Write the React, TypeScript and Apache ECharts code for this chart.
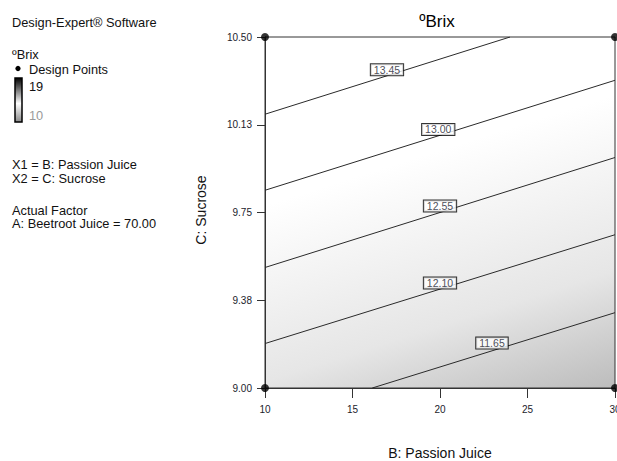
import React, { useEffect, useRef } from "react";
import * as echarts from "echarts";

const FONT = "'Liberation Sans', Arial, sans-serif";

// Contour lines (level, endpoints in data units: B = Passion Juice, C = Sucrose)
const contourLevels = ["13.45", "13.00", "12.55", "12.10", "11.65"];
const contourStartX = [10, 10, 10, 10, 16.13];
const contourStartY = [10.17, 9.845, 9.515, 9.19, 9.0];
const contourEndX = [24.0, 30, 30, 30, 30];
const contourEndY = [10.5, 10.315, 9.985, 9.655, 9.322];
// Contour label anchor positions (data units)
const labelX = [16.97, 19.9, 20.0, 20.0, 22.97];
const labelY = [10.36, 10.105, 9.778, 9.449, 9.192];
// Design points
const designX = [10, 10, 30, 30];
const designY = [9.0, 10.5, 9.0, 10.5];
// Axis settings
const xMin = 10, xMax = 30, xStep = 5;
const yMin = 9.0, yMax = 10.5, yStep = 0.375;

const leftTexts = [
  "Design-Expert® Software",
  "ºBrix",
  "Design Points",
  "19",
  "10",
  "X1 = B: Passion Juice",
  "X2 = C: Sucrose",
  "Actual Factor",
  "A: Beetroot Juice = 70.00",
];

export default function App() {
  const ref = useRef<HTMLDivElement>(null);
  useEffect(() => {
    if (!ref.current) return;
    const chart = echarts.init(ref.current, null, { renderer: "svg" });

    const lineSeries = contourLevels.map((lv, i) => ({
      type: "line",
      name: lv,
      data: [
        [contourStartX[i], contourStartY[i]],
        [contourEndX[i], contourEndY[i]],
      ],
      symbol: "none",
      lineStyle: { color: "#2a2a2a", width: 1 },
      silent: true,
      z: 2,
    }));

    const txt = (text: string, x: number, y: number, extra: any = {}) => ({
      type: "text",
      x,
      y,
      style: {
        text,
        fill: "#111",
        font: `12.8px ${FONT}`,
        textVerticalAlign: "middle",
        verticalAlign: "middle",
        ...extra,
      },
    });

    const option: any = {
      animation: false,
      grid: {
        left: 265,
        top: 37,
        width: 350,
        height: 351,
        outerBoundsMode: "none",
        containLabel: false,
        show: true,
        borderColor: "#333",
        borderWidth: 1,
        backgroundColor: new echarts.graphic.LinearGradient(0.76, 0.24, 1, 1, [
          { offset: 0, color: "#ffffff" },
          { offset: 0.6, color: "#e6e6e6" },
          { offset: 1, color: "#bcbcbc" },
        ]),
      },
      xAxis: {
        type: "value",
        min: xMin,
        max: xMax,
        interval: xStep,
        axisLine: { show: true, lineStyle: { color: "#333", width: 1 } },
        axisTick: { show: true, length: 10, lineStyle: { color: "#333" } },
        axisLabel: {
          fontSize: 10,
          fontFamily: FONT,
          color: "#1c1c2c",
          margin: 16,
        },
        splitLine: { show: false },
      },
      yAxis: {
        type: "value",
        min: yMin,
        max: yMax,
        interval: yStep,
        axisLine: { show: true, lineStyle: { color: "#333", width: 1 } },
        axisTick: { show: true, length: 8, lineStyle: { color: "#333" } },
        axisLabel: {
          fontSize: 10,
          fontFamily: FONT,
          color: "#1c1c2c",
          margin: 13,
          formatter: (v: number) => v.toFixed(2),
        },
        splitLine: { show: false },
      },
      series: [
        ...lineSeries,
        {
          type: "scatter",
          data: labelX.map((x, i) => [x, labelY[i], contourLevels[i]]),
          symbolSize: 0,
          silent: true,
          z: 5,
          label: {
            show: true,
            position: "inside",
            formatter: (p: any) => p.data[2],
            fontSize: 10.5,
            fontFamily: FONT,
            color: "#1a1a2e",
            backgroundColor: "#ffffff",
            borderColor: "#000",
            borderWidth: 1,
            padding: [1, 3, 0, 3],
            lineHeight: 10,
          },
        },
        {
          type: "scatter",
          data: designX.map((x, i) => [x, designY[i]]),
          symbol: "circle",
          symbolSize: 8,
          itemStyle: { color: "#000" },
          silent: true,
          clip: false,
          z: 6,
        },
      ],
      graphic: [
        txt(leftTexts[0], 12, 22.5),
        txt(leftTexts[1], 12, 54),
        { type: "circle", shape: { cx: 18, cy: 68.5, r: 2.6 }, style: { fill: "#000" } },
        txt(leftTexts[2], 29, 69.5),
        {
          type: "rect",
          shape: { x: 15, y: 78, width: 7, height: 44 },
          style: {
            fill: new echarts.graphic.LinearGradient(0, 0, 0, 1, [
              { offset: 0, color: "#000000" },
              { offset: 0.58, color: "#ffffff" },
              { offset: 1, color: "#8a8a8a" },
            ]),
            stroke: "#000",
            lineWidth: 1.5,
          },
        },
        txt(leftTexts[3], 29, 86),
        txt(leftTexts[4], 29, 115.5, { fill: "#9a9a9a" }),
        txt(leftTexts[5], 12, 164),
        txt(leftTexts[6], 12, 178.5),
        txt(leftTexts[7], 12, 210),
        txt(leftTexts[8], 12, 223.5),
        {
          type: "text",
          x: 437,
          y: 21,
          style: {
            text: "ºBrix",
            fill: "#000",
            font: `17px ${FONT}`,
            textAlign: "center",
            align: "center",
            verticalAlign: "middle",
            textVerticalAlign: "middle",
          },
        },
        {
          type: "text",
          x: 440,
          y: 453,
          style: {
            text: "B: Passion Juice",
            fill: "#111",
            font: `14px ${FONT}`,
            textAlign: "center",
            align: "center",
            verticalAlign: "middle",
            textVerticalAlign: "middle",
          },
        },
        {
          type: "text",
          x: 201,
          y: 210,
          rotation: Math.PI / 2,
          style: {
            text: "C: Sucrose",
            fill: "#111",
            font: `14px ${FONT}`,
            textAlign: "center",
            align: "center",
            verticalAlign: "middle",
            textVerticalAlign: "middle",
          },
        },
      ],
    };
    chart.setOption(option);
    return () => chart.dispose();
  }, []);
  return (
    <div
      ref={ref}
      style={{ position: "absolute", left: 0, top: 0, width: 617, height: 461 }}
    />
  );
}
